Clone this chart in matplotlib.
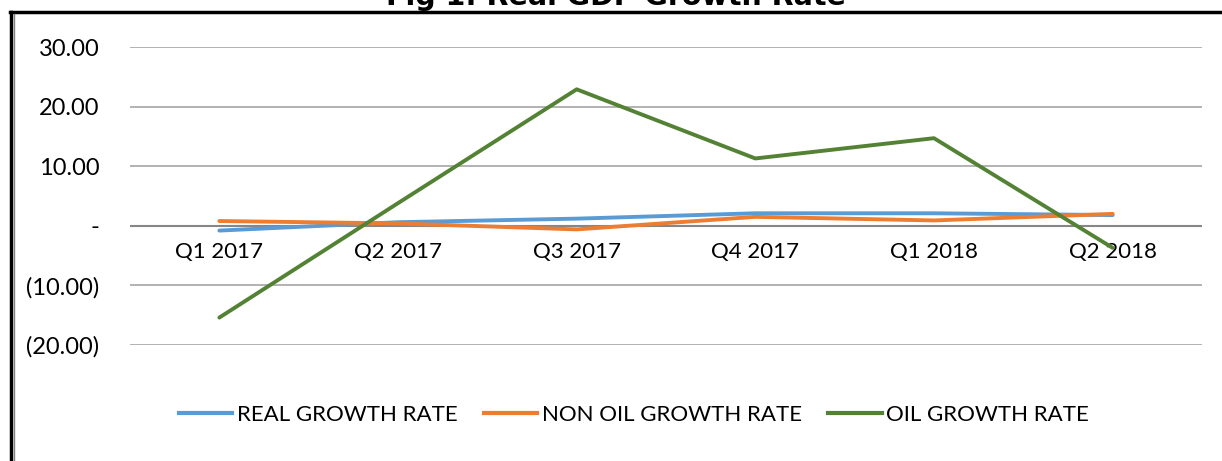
import matplotlib.pyplot as plt
from matplotlib.lines import Line2D

quarters = ["Q1 2017", "Q2 2017", "Q3 2017", "Q4 2017", "Q1 2018", "Q2 2018"]
real_growth = [-0.8, 0.6, 1.2, 2.1, 2.1, 1.8]
non_oil_growth = [0.8, 0.4, -0.6, 1.5, 0.9, 2.0]
oil_growth = [-15.4, 3.8, 22.9, 11.3, 14.7, -3.7]
y_ticks = [-20, -10, 0, 10, 20, 30]


def fmt(v):
    if v == 0:
        return "-"
    if v < 0:
        return f"({abs(v):.2f})"
    return f"{v:.2f}"


plt.rcParams["font.family"] = ["Lato", "DejaVu Sans"]

fig = plt.figure(figsize=(12.22, 4.61), dpi=100)
ax = fig.add_axes([130 / 1222, 1 - 345 / 461, (1202 - 130) / 1222, (345 - 47) / 461])

x = range(len(quarters))
lines = []
lines += ax.plot(x, real_growth, color="#5B9BD5", lw=2.8, label="REAL GROWTH RATE", solid_capstyle="round")
lines += ax.plot(x, non_oil_growth, color="#ED7D31", lw=2.8, label="NON OIL GROWTH RATE", solid_capstyle="round")
lines += ax.plot(x, oil_growth, color="#548235", lw=2.8, label="OIL GROWTH RATE", solid_capstyle="round")

ax.set_xlim(-0.5, len(quarters) - 0.5)
ax.set_ylim(-20, 30)
ax.set_yticks(y_ticks)
ax.set_yticklabels([fmt(v) for v in y_ticks])
ax.grid(axis="y", color="#A6A6A6", lw=1.2)
ax.set_axisbelow(True)
ax.axhline(0, color="#868686", lw=1.5, zorder=1)

for s in ["top", "right", "left", "bottom"]:
    ax.spines[s].set_visible(False)
ax.spines["bottom"].set_position(("data", 0))
ax.set_xticks(list(x))
ax.set_xticklabels(quarters)
ax.tick_params(axis="x", length=0, pad=12, labelsize=16)
ax.tick_params(axis="y", length=0, pad=22, labelsize=17)

handles = [Line2D([], [], color=l.get_color(), lw=3) for l in lines]
fig.legend(handles, [l.get_label() for l in lines], loc="center",
           bbox_to_anchor=(634 / 1222, 1 - 415 / 461), ncol=3, frameon=False,
           fontsize=16, handlelength=2.4, handletextpad=0.2, columnspacing=1.2)

fig.text(616 / 1222, 1 - 5 / 461, "Fig 1: Real GDP Growth Rate", ha="center",
         va="baseline", fontsize=20.5, fontweight="bold", family="DejaVu Sans")

# frame around the chart
fig.add_artist(Line2D([10 / 1222, 1], [1 - 12 / 461] * 2, color="black", lw=2.5))
fig.add_artist(Line2D([11 / 1222] * 2, [0, 1 - 12 / 461], color="black", lw=2.5))
fig.add_artist(Line2D([14 / 1222] * 2, [0, 1 - 14 / 461], color="#808080", lw=1))

fig.savefig("out.png", dpi=100)
